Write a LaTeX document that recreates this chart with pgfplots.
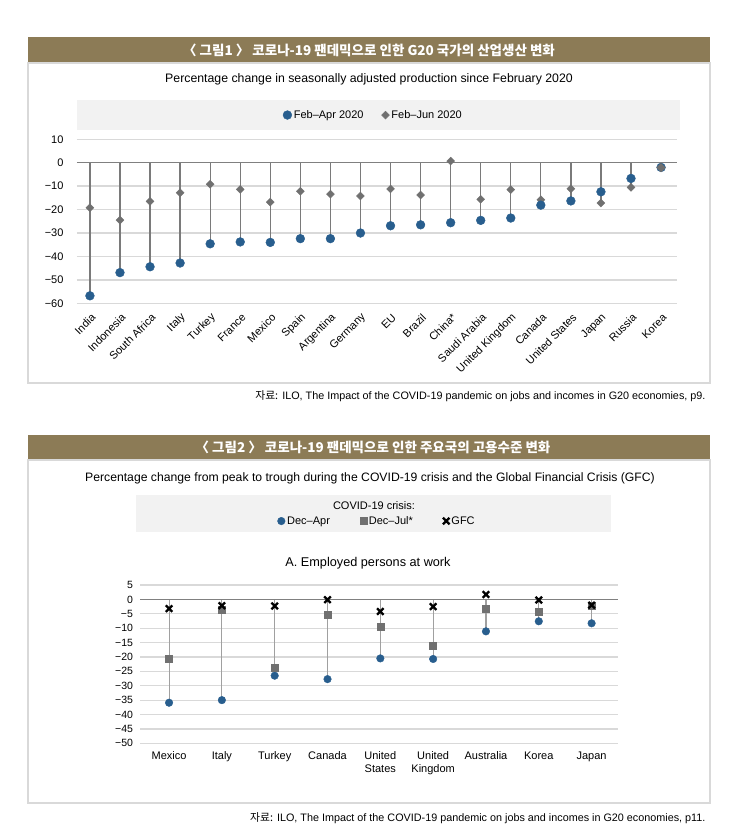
\documentclass[border=0pt]{standalone}
\usepackage{pgfplots}
\usepackage{pgfplotstable}
\pgfplotsset{compat=1.18}
\usepackage{fontspec}
\setmainfont{Liberation Sans}
\newfontfamily\kr{Noto Sans CJK KR}

\definecolor{titlebar}{HTML}{8C7B56}
\definecolor{boxgray}{HTML}{D9D9D9}
\definecolor{band}{HTML}{F2F2F2}
\definecolor{gridgray}{HTML}{D9D9D9}
\definecolor{zerogray}{HTML}{808080}
\definecolor{stemgray}{HTML}{7A7A7A}
\definecolor{stemlight}{HTML}{A0A0A0}
\definecolor{cblue}{HTML}{285E8E}
\definecolor{dgray}{HTML}{707070}

% Feb-Apr / Feb-Jun 2020, % change in production
\pgfplotstableread{
idx apr jun
0 -56.8 -19.2
1 -46.9 -24.5
2 -44.4 -16.5
3 -42.8 -12.8
4 -34.6 -9.2
5 -33.8 -11.4
6 -34.0 -16.8
7 -32.4 -12.2
8 -32.4 -13.4
9 -30.0 -14.2
10 -26.9 -11.2
11 -26.5 -13.8
12 -25.6 0.7
13 -24.6 -15.6
14 -23.6 -11.5
15 -18.1 -15.8
16 -16.3 -11.1
17 -12.4 -17.2
18 -6.7 -10.5
19 -2.0 -2.1
}\prodtable

% employed persons at work, peak to trough
\pgfplotstableread{
idx apr jul gfc
0 -35.9 -20.5 -3.2
1 -35.0 -3.5 -2.2
2 -26.5 -23.6 -2.3
3 -27.7 -5.2 -0.1
4 -20.5 -9.4 -4.2
5 -20.7 -16.0 -2.5
6 -11.1 -3.1 1.7
7 -7.6 -4.1 -0.2
8 -8.3 -2.3 -2.0
}\emptable

\begin{document}
\begin{tikzpicture}[x=1pt,y=1pt]
\path[use as bounding box, fill=white] (0,0) rectangle (750,-840);

% ---- figure 1 frame
\fill[titlebar] (28,-37) rectangle (710,-63);
\node[text=white, font={\kr\bfseries\fontsize{13.5}{15}\selectfont}] at (369,-50)
  {〈 그림1 〉 코로나-19 팬데믹으로 인한 G20 국가의 산업생산 변화};
\draw[boxgray, line width=1.5pt] (28,-63) rectangle (710,-383);
\node[font=\fontsize{12.3}{14}\selectfont] at (369,-79)
  {Percentage change in seasonally adjusted production since February 2020};
\fill[band] (77,-100) rectangle (680,-130);

\begin{axis}[
  at={(77pt,-303.3pt)}, anchor=south west,
  scale only axis, width=600pt, height=164pt,
  xmin=-0.43, xmax=19.53, ymin=-60, ymax=10,
  axis line style={draw=none},
  major tick length=0pt,
  ytick={-60,-50,...,10},
  yticklabels={−60,−50,−40,−30,−20,−10,0,10},
  ymajorgrids, grid style={gridgray, line width=1.4pt},
  xtick={0,...,19},
  xticklabels={India,Indonesia,South Africa,Italy,Turkey,France,Mexico,Spain,Argentina,Germany,EU,Brazil,China*,Saudi Arabia,United Kingdom,Canada,United States,Japan,Russia,Korea},
  xticklabel style={xshift=6pt, yshift=-10pt, rotate=45, anchor=east, font=\fontsize{11}{12}\selectfont},
  yticklabel style={xshift=-10pt, font=\fontsize{11}{13}\selectfont},
  legend columns=2, reverse legend,
  legend style={at={(0.494,1.148)}, anchor=center, draw=none, fill=none,
    font=\fontsize{11}{12}\selectfont,
    /tikz/every even column/.append style={column sep=16pt}},
  clip=false,
]
\addplot[ycomb, draw=stemgray, line width=1.3pt, forget plot] table[x=idx, y=apr] {\prodtable};
\addplot[ycomb, draw=stemgray, line width=1.3pt, forget plot] table[x=idx, y=jun] {\prodtable};
\draw[zerogray, line width=1.5pt] (axis cs:-0.43,0) -- (axis cs:19.53,0);
\addplot[only marks, mark=square*, mark size=2.8pt, mark options={rotate=45}, color=dgray] table[x=idx, y=jun] {\prodtable};
\addplot[only marks, mark=*, mark size=4.4pt, color=cblue] table[x=idx, y=apr] {\prodtable};
\addplot[only marks, mark=square*, mark size=3pt, mark options={rotate=45}, color=dgray, forget plot] coordinates {(19,-2.1)};
\legend{Feb–Jun 2020, Feb–Apr 2020}
\end{axis}

\node[anchor=east, font=\fontsize{10.8}{12}\selectfont] at (709,-396)
  {{\kr 자료:} ILO, The Impact of the COVID-19 pandemic on jobs and incomes in G20 economies, p9.};

% ---- figure 2 frame
\fill[titlebar] (28,-435) rectangle (710,-460);
\node[text=white, font={\kr\bfseries\fontsize{13.5}{15}\selectfont}] at (373,-447)
  {〈 그림2 〉 코로나-19 팬데믹으로 인한 주요국의 고용수준 변화};
\draw[boxgray, line width=1.5pt] (28,-460) rectangle (710,-803);
\node[font=\fontsize{12.2}{14}\selectfont] at (370,-478)
  {Percentage change from peak to trough during the COVID-19 crisis and the Global Financial Crisis (GFC)};
\fill[band] (136,-495) rectangle (611,-532);
\node[font=\fontsize{11}{12}\selectfont] at (374,-506) {COVID-19 crisis:};
\node[font=\fontsize{12.7}{14}\selectfont] at (368,-563) {A. Employed persons at work};

\begin{axis}[
  at={(140pt,-743.3pt)}, anchor=south west,
  scale only axis, width=478pt, height=158.3pt,
  xmin=-0.55, xmax=8.5, ymin=-50, ymax=5,
  axis line style={draw=none},
  major tick length=0pt,
  ytick={-50,-45,...,5},
  yticklabels={−50,−45,−40,−35,−30,−25,−20,−15,−10,−5,0,5},
  ymajorgrids, grid style={gridgray, line width=1.2pt},
  xtick={0,...,8},
  xticklabels={Mexico,Italy,Turkey,Canada,United\\States,United\\Kingdom,Australia,Korea,Japan},
  xticklabel style={align=center, anchor=north, yshift=-5pt, font=\fontsize{11}{13}\selectfont},
  yticklabel style={xshift=-3.5pt, font=\fontsize{10.5}{12}\selectfont},
  legend columns=3,
  legend style={at={(0.496,1.404)}, anchor=center, draw=none, fill=none,
    font=\fontsize{11}{12}\selectfont,
    /tikz/every even column/.append style={column sep=28pt}},
  clip=false,
]
\addplot[ycomb, draw=stemlight, line width=1.1pt, forget plot] table[x=idx, y=apr] {\emptable};
\draw[zerogray, line width=1.3pt] (axis cs:-0.55,0) -- (axis cs:8.5,0);
\addplot[only marks, mark=*, mark size=3.8pt, color=cblue] table[x=idx, y=apr] {\emptable};
\addplot[only marks, mark=square*, mark size=3.5pt, color=dgray] table[x=idx, y=jul] {\emptable};
\addplot[only marks, mark=x, mark size=4.6pt, mark options={line width=2.3pt}, color=black] table[x=idx, y=gfc] {\emptable};
\legend{Dec–Apr, Dec–Jul*, GFC}
\end{axis}

\node[anchor=east, font=\fontsize{10.8}{12}\selectfont] at (709,-818)
  {{\kr 자료:} ILO, The Impact of the COVID-19 pandemic on jobs and incomes in G20 economies, p11.};
\end{tikzpicture}
\end{document}
